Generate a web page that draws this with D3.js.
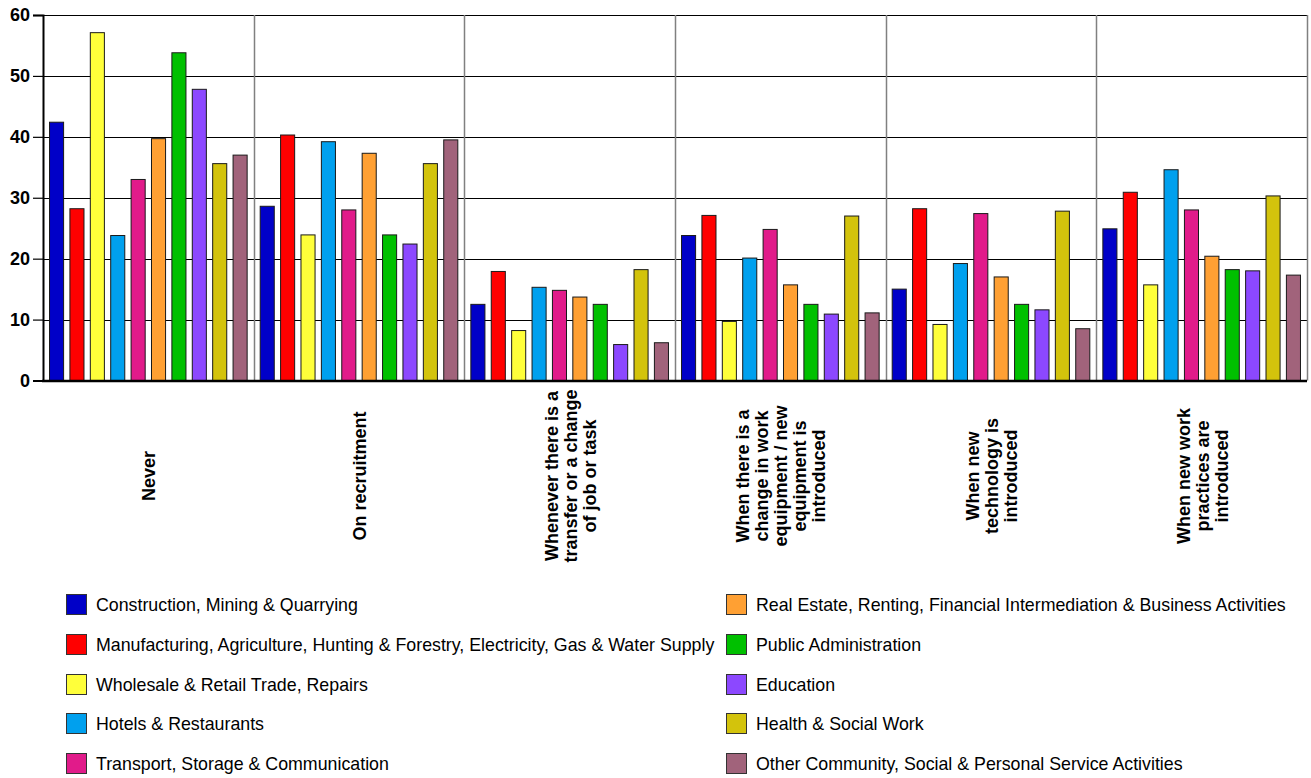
<!DOCTYPE html>
<html>
<head>
<meta charset="utf-8">
<script src="https://cdn.jsdelivr.net/npm/d3@7/dist/d3.min.js"></script>
<style>
	body { margin: 0; background: #fff; }
	svg { display: block; font-family: "Liberation Sans", Arial, sans-serif; }
</style>
</head>
<body>
<svg id="chart" width="1311" height="778"></svg>
<script>
// when is training given - % of firms per sector
var occasions = [
	["Never"],
	["On recruitment"],
	["Whenever there is a", "transfer or a change", "of job or task"],
	["When there is a", "change in work", "equipment / new", "equipment is", "introduced"],
	["When new", "technology is", "introduced"],
	["When new work", "practices are", "introduced"]
];

var sectors = [
	"Construction, Mining & Quarrying",
	"Manufacturing, Agriculture, Hunting & Forestry, Electricity, Gas & Water Supply",
	"Wholesale & Retail Trade, Repairs",
	"Hotels & Restaurants",
	"Transport, Storage & Communication",
	"Real Estate, Renting, Financial Intermediation & Business Activities",
	"Public Administration",
	"Education",
	"Health & Social Work",
	"Other Community, Social & Personal Service Activities"
];

var sectorColors = ["#0000C8", "#FF0000", "#FFFF3A", "#00A0EE", "#E11B8A",
	"#FFA033", "#00C000", "#8C48FF", "#D3C30C", "#A1637B"];

// one row per occasion, one value per sector
var values = [
	[42.4, 28.2, 57.1, 23.8, 33.0, 39.7, 53.8, 47.8, 35.6, 37.0],
	[28.6, 40.3, 23.9, 39.2, 28.0, 37.3, 23.9, 22.4, 35.6, 39.5],
	[12.5, 17.9, 8.2, 15.3, 14.8, 13.7, 12.5, 5.9, 18.2, 6.2],
	[23.8, 27.1, 9.7, 20.1, 24.8, 15.7, 12.5, 10.9, 27.0, 11.1],
	[15.0, 28.2, 9.2, 19.2, 27.4, 17.0, 12.5, 11.6, 27.8, 8.5],
	[24.9, 30.9, 15.7, 34.6, 28.0, 20.4, 18.2, 18.0, 30.3, 17.3]
];

var yTicks = [0, 10, 20, 30, 40, 50, 60];

var svg = d3.select('#chart');
// plot box (window.top is taken, so own names)
var plotLeft = 43, plotRight = 1307, plotTop = 15, plotBottom = 380.5;

var x0 = d3.scaleBand()
	.domain(d3.range(occasions.length))
	.range([plotLeft, plotRight]);

var x1 = d3.scaleBand()
	.domain(d3.range(sectors.length))
	.range([0, x0.bandwidth()])
	.paddingInner(0.31)
	.paddingOuter(0.32);

var y = d3.scaleLinear()
	.domain([0, 60])
	.range([plotBottom, plotTop]);

// horizontal grid
svg.append('g')
	.selectAll('line')
	.data(yTicks)
	.join('line')
	.attr('x1', plotLeft)
	.attr('x2', plotRight)
	.attr('y1', function(d){ return Math.round(y(d)) + 0.5 })
	.attr('y2', function(d){ return Math.round(y(d)) + 0.5 })
	.attr('stroke', '#000')
	.attr('stroke-width', 1.2);

// vertical group dividers
svg.append('g')
	.selectAll('line')
	.data(d3.range(1, occasions.length + 1))
	.join('line')
	.attr('x1', function(d){ return Math.round(x0(d) || plotRight) + 0.5 })
	.attr('x2', function(d){ return Math.round(x0(d) || plotRight) + 0.5 })
	.attr('y1', plotTop)
	.attr('y2', plotBottom)
	.attr('stroke', '#808080')
	.attr('stroke-width', 1.5);

// bars
var groups = svg.append('g')
	.selectAll('g')
	.data(values)
	.join('g')
	.attr('transform', function(d, i){ return `translate(${x0(i)},0)` });

groups.selectAll('rect')
	.data(function(d){ return d })
	.join('rect')
	.attr('x', function(d, i){ return x1(i) })
	.attr('y', function(d){ return y(d) })
	.attr('width', x1.bandwidth())
	.attr('height', function(d){ return y(0) - y(d) })
	.attr('fill', function(d, i){ return sectorColors[i] })
	.attr('stroke', '#1a1a1a')
	.attr('stroke-width', 1);

// y axis
var yAxis = d3.axisLeft(y)
	.tickValues(yTicks)
	.tickSize(10)
	.tickPadding(3)
	.tickFormat(d3.format('d'));

var yg = svg.append('g')
	.attr('transform', `translate(${plotLeft},0)`)
	.call(yAxis);
yg.select('.domain').attr('stroke', '#000').attr('stroke-width', 2);
yg.selectAll('.tick line').attr('stroke', '#000').attr('stroke-width', 1.2);
yg.selectAll('.tick text')
	.attr('font-size', 18)
	.attr('font-weight', 'bold')
	.attr('font-family', '"Liberation Sans", Arial, sans-serif')
	.attr('fill', '#000');

// x baseline
svg.append('line')
	.attr('x1', plotLeft - 1)
	.attr('x2', plotRight)
	.attr('y1', plotBottom + 0.5)
	.attr('y2', plotBottom + 0.5)
	.attr('stroke', '#000')
	.attr('stroke-width', 2.5);

// rotated category labels, several lines each
var lineGap = 19;
occasions.forEach(function(lines, i){
	var cx = x0(i) + x0.bandwidth() / 2;
	var n = lines.length;
	lines.forEach(function(txt, j){
		// baseline of line j, block centred on the group
		var bx = cx + (j - (n - 1) / 2) * lineGap + 7;
		svg.append('text')
			.attr('transform', `translate(${bx},476) rotate(-90)`)
			.attr('text-anchor', 'middle')
			.attr('font-size', 18)
			.attr('font-weight', 'bold')
			.attr('fill', '#000')
			.text(txt);
	});
});

// legend, two columns of five
var legendRowY = [605, 645, 685, 724, 764];
var legendColX = [66, 726];

sectors.forEach(function(name, i){
	var col = Math.floor(i / 5), row = i % 5;
	var lx = legendColX[col], ly = legendRowY[row];
	svg.append('rect')
		.attr('x', lx + 0.5)
		.attr('y', ly - 10.5)
		.attr('width', 20)
		.attr('height', 20)
		.attr('fill', sectorColors[i])
		.attr('stroke', '#333')
		.attr('stroke-width', 1);
	svg.append('text')
		.attr('x', lx + 30)
		.attr('y', ly + 6)
		.attr('font-size', 17.8)
		.attr('fill', '#000')
		.text(name);
});
</script>
</body>
</html>
